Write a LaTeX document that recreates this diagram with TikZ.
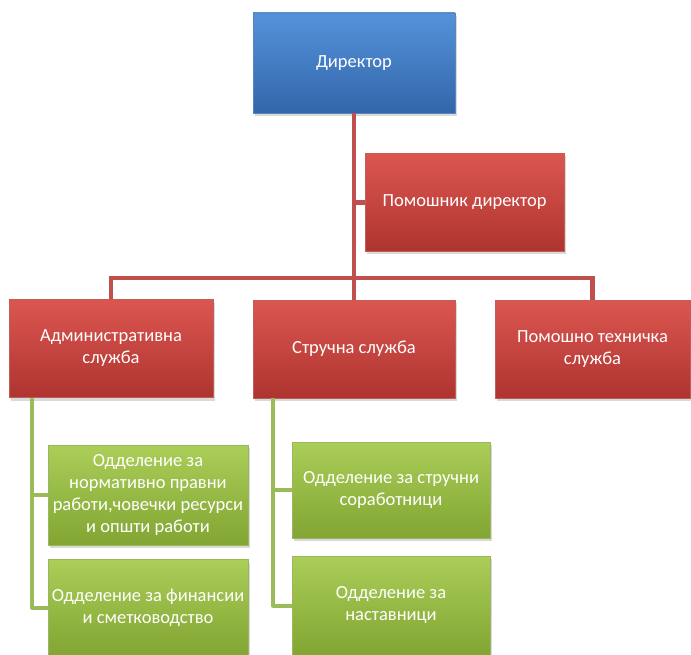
\documentclass[tikz,border=0pt]{standalone}
\usepackage{fontspec}
\setmainfont{Carlito}
\usetikzlibrary{shadows}

\definecolor{dirtop}{HTML}{5592DA}
\definecolor{dirmid}{HTML}{3C7BC6}
\definecolor{dirbot}{HTML}{3266AA}
\definecolor{redtop}{HTML}{DC5650}
\definecolor{redmid}{HTML}{CC403C}
\definecolor{redbot}{HTML}{AE3430}
\definecolor{grntop}{HTML}{AACE58}
\definecolor{grnmid}{HTML}{98C03F}
\definecolor{grnbot}{HTML}{82A533}
\definecolor{redline}{HTML}{C0504D}
\definecolor{grnline}{HTML}{9BBB59}

\begin{document}
\begin{tikzpicture}[x=1pt,y=-1pt,
    box/.style={rectangle, minimum width=200pt, minimum height=98pt, inner sep=1pt,
      align=center, text=white, font=\fontsize{18.5}{22}\selectfont,
      drop shadow={opacity=0.3, shadow xshift=1.5pt, shadow yshift=-3pt}},
    bluebox/.style={box, top color=dirtop, middle color=dirmid, bottom color=dirbot, draw=dirbot!80, thin},
    redbox/.style={box, top color=redtop, middle color=redmid, bottom color=redbot, draw=redbot!80, thin},
    grnbox/.style={box, top color=grntop, middle color=grnmid, bottom color=grnbot, draw=grnbot!80, thin},
    redlink/.style={draw=redline, line width=4.5pt},
    grnlink/.style={draw=grnline, line width=4pt, line join=round}]
  \useasboundingbox (0,0) rectangle (691,655);

  \node[bluebox, minimum width=202pt, minimum height=100pt] (dir) at (354,63) {Директор};
  \node[redbox, minimum width=199pt] (pom) at (464.5,202.5) {Помошник директор};

  \node[redbox, minimum width=204pt] (adm) at (111,348.5) {Административна\\служба};
  \node[redbox, minimum width=202pt] (stru) at (354,349) {Стручна служба};
  \node[redbox, minimum width=195pt] (tech) at (592.5,349) {Помошно техничка\\служба};

  \node[grnbox, minimum height=100pt] (g1) at (148,495) {Одделение за\\нормативно правни\\работи,човечки ресурси\\и општи работи};
  \node[grnbox, minimum height=96pt] (g2) at (148,607.5) {Одделение за финансии\\и сметководство};
  \node[grnbox, minimum width=198pt, minimum height=96pt] (g3) at (391,490) {Одделение за стручни\\соработници};
  \node[grnbox, minimum width=198pt, minimum height=99pt] (g4) at (391,605.5) {Одделение за\\наставници};

  \coordinate (bar) at (354,278);
  \coordinate (ta) at ([xshift=23pt]adm.south west);
  \coordinate (ts) at ([xshift=20pt]stru.south west);

  \draw[redlink] (dir.south) -- (stru.north);
  \draw[redlink] (pom.west) -- (pom.west -| dir.south);
  \draw[redlink] (adm.north) -- (adm.north |- bar) -| (tech.north);

  \draw[grnlink] (ta) |- (g1.west);
  \draw[grnlink] (ta) |- (g2.west);
  \draw[grnlink] (ts) |- (g3.west);
  \draw[grnlink] (ts) |- (g4.west);
\end{tikzpicture}
\end{document}
